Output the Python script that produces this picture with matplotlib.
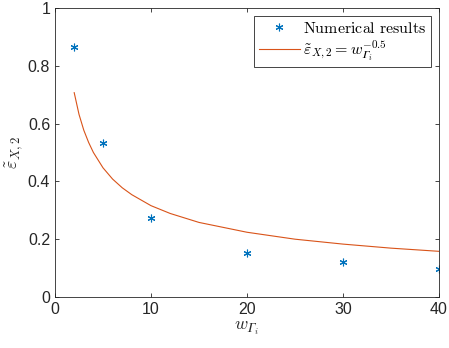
import matplotlib
matplotlib.use('Agg')
import matplotlib.pyplot as plt

plt.rcParams['mathtext.fontset'] = 'cm'
plt.rcParams['font.family'] = ['Liberation Sans', 'DejaVu Sans']

# numerical results
w_num = [2, 5, 10, 20, 30, 40]
eps_num = [0.865, 0.532, 0.274, 0.153, 0.120, 0.097]

# reference curve samples
w_fit = [2, 2.5, 3, 3.5, 4, 5, 6, 7, 8, 10, 12, 15, 20, 25, 30, 35, 40]
eps_fit = [0.707, 0.632, 0.577, 0.535, 0.500, 0.447, 0.408, 0.378, 0.354,
           0.316, 0.289, 0.258, 0.224, 0.200, 0.183, 0.169, 0.158]

xticks = [0, 10, 20, 30, 40]
yticks = [0, 0.2, 0.4, 0.6, 0.8, 1]
ytick_labels = ['0', '0.2', '0.4', '0.6', '0.8', '1']

fig = plt.figure(figsize=(4.49, 3.48), dpi=100)
ax = fig.add_axes([0.1225, 0.1466, 0.8552, 0.8304])

ax.plot(w_num, eps_num, linestyle='none', marker=(6, 2, 0), color='#0072BD',
        markersize=5.5, markeredgewidth=0.8,
        label=r'$\mathrm{Numerical\ results}$')
ax.plot(w_fit, eps_fit, '-', color='#D95319', linewidth=0.8,
        label=r'$\tilde{\varepsilon}_{X,2} = w_{𝛤_i}^{-0.5}$')

ax.set_xlim(0, 40)
ax.set_ylim(0, 1)
ax.set_xticks(xticks)
ax.set_yticks(yticks)
ax.set_yticklabels(ytick_labels)
ax.tick_params(direction='in', length=3, width=0.6, colors='#262626', labelsize=11.5,
               top=True, right=True, labeltop=False, labelright=False)
for s in ax.spines.values():
    s.set_color('#262626')
    s.set_linewidth(0.6)

ax.set_xlabel(r'$w_{𝛤_i}$', fontsize=13, color='#262626', labelpad=2)
ax.set_ylabel(r'$\tilde{\varepsilon}_{X,2}$', fontsize=13, color='#262626', labelpad=2)

leg = ax.legend(loc='upper right', fontsize=11.5, fancybox=False, framealpha=1,
                edgecolor='#262626', borderpad=0.3, handlelength=2.6,
                handletextpad=0.2, labelspacing=0.15, borderaxespad=0.5)
leg.get_frame().set_linewidth(0.6)

fig.savefig('out.png', dpi=100)
